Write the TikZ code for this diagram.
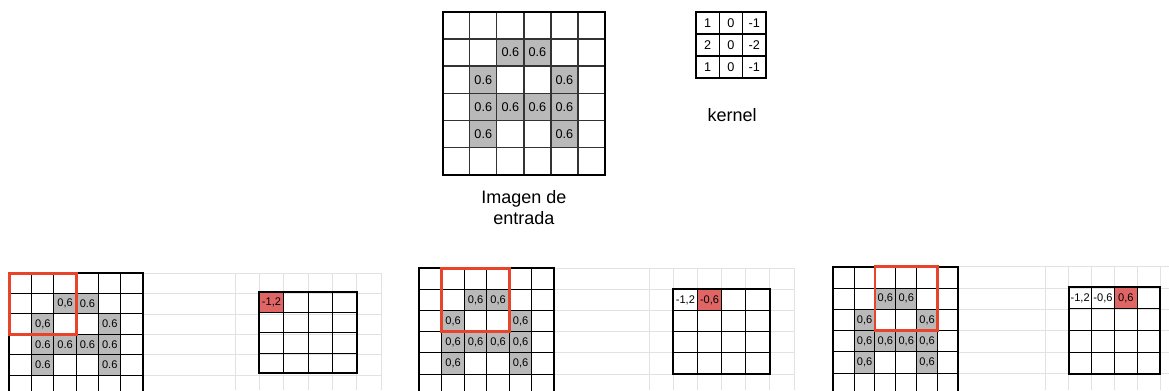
\documentclass[tikz,border=0pt]{standalone}
\usepackage{fontspec}
\setmainfont{Liberation Sans}
\definecolor{cellgray}{HTML}{B9B9B9}
\definecolor{hitred}{HTML}{E06666}
\definecolor{winred}{HTML}{E8432B}
\definecolor{sheetline}{HTML}{E2E2E2}

\begin{document}
\begin{tikzpicture}[x=0.75pt,y=-0.75pt,
  val/.style={font=\fontsize{9.5}{11}\selectfont,inner sep=0pt},
  sval/.style={font=\fontsize{8.3}{9}\selectfont,inner sep=0pt},
  kval/.style={font=\fontsize{9.5}{11}\selectfont,inner sep=0pt},
  lbl/.style={font=\fontsize{13.5}{15.75}\selectfont,align=center,inner sep=0pt},
  inner/.style={line width=1pt,draw=black!80},
  outer/.style={line width=1.5pt},
  sheet/.style={line width=0.7pt,draw=sheetline},
  window/.style={line width=2pt,draw=winred}]
  \clip (0,0) rectangle (1169,390);

  % input image
  \begin{scope}[shift={(442.7,11.7)},xscale=27.05,yscale=27.2]
    \fill[cellgray] (2,1) rectangle (4,2) (1,2) rectangle (2,5)
      (4,2) rectangle (5,5) (2,3) rectangle (4,4);
    \foreach \i in {1,...,5}
      \draw[inner] (\i,0) -- (\i,6) (0,\i) -- (6,\i);
    \draw[outer] (0,0) rectangle (6,6);
    \foreach \c/\r in {2/1,3/1,1/2,4/2,1/3,2/3,3/3,4/3,1/4,4/4}
      \node[val] (in-\c-\r) at (\c+0.5,\r+0.5) {0.6};
  \end{scope}
  \node[lbl] (inlbl) at (523.9,207.5) {Imagen de\\entrada};

  % kernel
  \begin{scope}[shift={(696,12)},xscale=23.33,yscale=22]
    \foreach \i in {1,2}
      \draw[line width=0.8pt] (\i,0) -- (\i,3) (0,\i) -- (3,\i);
    \draw[line width=1pt] (0,0) rectangle (3,3);
    \foreach \c/\r/\k in {0/0/1,1/0/0,2/0/-1,0/1/2,1/1/0,2/1/-2,0/2/1,1/2/0,2/2/-1}
      \node[kval] (k-\c-\r) at (\c+0.5,\r+0.5) {\k};
  \end{scope}
  \node[lbl] (kernlbl) at (732,115) {kernel};

  % step 1
  \foreach \k in {0,...,5}
    \draw[sheet] (143.3,273.3+20.34*\k) -- (381.1,273.3+20.34*\k);
  \foreach \k in {0,...,6}
    \draw[sheet] (235+24.35*\k,273.3) -- (235+24.35*\k,390);
  \begin{scope}[shift={(9.3,273.3)},xscale=22.33,yscale=20.34]
    \fill[cellgray] (2,1) rectangle (4,2) (1,2) rectangle (2,5)
      (4,2) rectangle (5,5) (2,3) rectangle (4,4);
    \foreach \i in {1,...,5}
      \draw[line width=0.75pt] (\i,0) -- (\i,6) (0,\i) -- (6,\i);
    \draw[outer] (0,0) rectangle (6,6);
    \foreach \c/\r in {2/1,1/2}
      \node[sval] (a-\c-\r) at (\c+0.5,\r+0.5) {0,6};
    \foreach \c/\r in {3/1,4/2,1/3,2/3,3/3,4/3,1/4,4/4}
      \node[sval] (a-\c-\r) at (\c+0.5,\r+0.5) {0.6};
    \draw[window] (0,0) rectangle (3,3);
  \end{scope}
  \begin{scope}[shift={(259.3,292.3)},xscale=24.35,yscale=20.25]
    \fill[hitred] (0,0) rectangle (1,1);
    \foreach \i in {1,2,3}
      \draw[line width=0.75pt] (\i,0) -- (\i,4) (0,\i) -- (4,\i);
    \draw[outer] (0,0) rectangle (4,4);
    \node[sval] (ao-0) at (0.5,0.5) {-1,2};
  \end{scope}

  % step 2
  \foreach \k in {0,...,5}
    \draw[sheet] (554.3,268.3+21.14*\k) -- (794.2,268.3+21.14*\k);
  \foreach \k in {0,...,6}
    \draw[sheet] (649.1+24.17*\k,268.3) -- (649.1+24.17*\k,390);
  \begin{scope}[shift={(419.3,268.3)},xscale=22.5,yscale=21.14]
    \fill[cellgray] (2,1) rectangle (4,2) (1,2) rectangle (2,5)
      (4,2) rectangle (5,5) (2,3) rectangle (4,4);
    \foreach \i in {1,...,5}
      \draw[line width=0.75pt] (\i,0) -- (\i,6) (0,\i) -- (6,\i);
    \draw[outer] (0,0) rectangle (6,6);
    \foreach \c/\r in {2/1,3/1,1/2,4/2,1/3,2/3,3/3,4/3,1/4,4/4}
      \node[sval] (b-\c-\r) at (\c+0.5,\r+0.5) {0,6};
    \draw[window] (1,0) rectangle (4,3);
  \end{scope}
  \begin{scope}[shift={(673.3,289.3)},xscale=24.17,yscale=21.17]
    \fill[hitred] (1,0) rectangle (2,1);
    \foreach \i in {1,2,3}
      \draw[line width=0.75pt] (\i,0) -- (\i,4) (0,\i) -- (4,\i);
    \draw[outer] (0,0) rectangle (4,4);
    \node[sval] (bo-0) at (0.5,0.5) {-1,2};
    \node[sval] (bo-1) at (1.5,0.5) {-0,6};
  \end{scope}

  % step 3
  \foreach \k in {0,...,5}
    \draw[sheet] (958.3,266.7+21.32*\k) -- (1169,266.7+21.32*\k);
  \foreach \k in {0,...,5}
    \draw[sheet] (1045.9+22.83*\k,266.7) -- (1045.9+22.83*\k,390);
  \begin{scope}[shift={(833.3,266.7)},xscale=20.83,yscale=21.32]
    \fill[cellgray] (2,1) rectangle (4,2) (1,2) rectangle (2,5)
      (4,2) rectangle (5,5) (2,3) rectangle (4,4);
    \foreach \i in {1,...,5}
      \draw[line width=0.75pt] (\i,0) -- (\i,6) (0,\i) -- (6,\i);
    \draw[outer] (0,0) rectangle (6,6);
    \foreach \c/\r in {2/1,3/1,1/2,4/2,1/3,2/3,3/3,4/3,1/4,4/4}
      \node[sval] (c-\c-\r) at (\c+0.5,\r+0.5) {0,6};
    \draw[window] (2,0) rectangle (5,3);
  \end{scope}
  \begin{scope}[shift={(1068.7,287.3)},xscale=22.83,yscale=21.67]
    \fill[hitred] (2,0) rectangle (3,1);
    \foreach \i in {1,2,3}
      \draw[line width=0.75pt] (\i,0) -- (\i,4) (0,\i) -- (4,\i);
    \draw[outer] (0,0) rectangle (4,4);
    \node[sval] (co-0) at (0.5,0.5) {-1,2};
    \node[sval] (co-1) at (1.5,0.5) {-0,6};
    \node[sval] (co-2) at (2.5,0.5) {0,6};
  \end{scope}
\end{tikzpicture}
\end{document}
